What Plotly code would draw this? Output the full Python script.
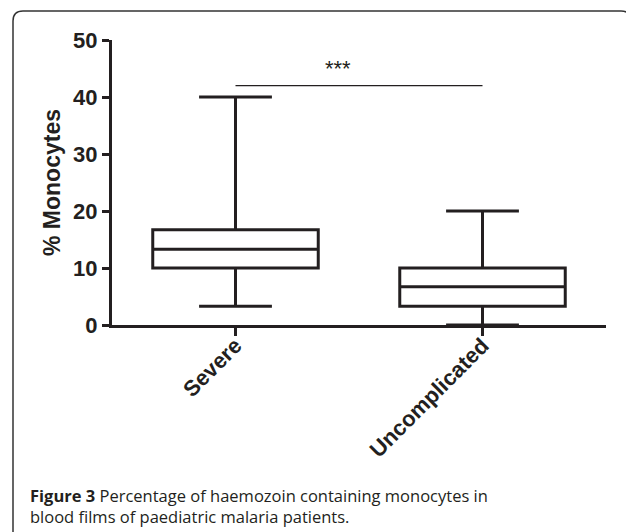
import plotly.graph_objects as go

categories = ["Severe", "Uncomplicated"]
minimum = [3.3, 0.0]
q1 = [10.0, 3.3]
median = [13.3, 6.7]
q3 = [16.7, 10.0]
maximum = [40.0, 20.0]
y_ticks = [0, 10, 20, 30, 40, 50]
sig_level = 42.0
sig_label = "***"
y_title = "% Monocytes"
caption_bold = "Figure 3"
caption_1 = " Percentage of haemozoin containing monocytes in"
caption_2 = "blood films of paediatric malaria patients."

OFF = 8  # page body margin
W, H = 634 - OFF, 532 - OFF
L, R, T, B = 112 - OFF, 28, 40 - OFF, 207
pw, ph = W - L - R, H - T - B


def px(x):
    return (x - OFF - L) / pw


def py(y):
    return (T + ph - (y - OFF)) / ph


ink = "#231f20"

fig = go.Figure()
fig.add_trace(go.Box(
    x=categories, q1=q1, median=median, q3=q3,
    lowerfence=minimum, upperfence=maximum,
    width=0.67, whiskerwidth=0.44,
    fillcolor="white", line=dict(color=ink, width=3),
    boxpoints=False, showlegend=False, hoverinfo="skip",
))

# significance bar
fig.add_shape(type="line", xref="x", yref="y", x0=categories[0], x1=categories[1],
              y0=sig_level, y1=sig_level, line=dict(color=ink, width=1.3))
fig.add_annotation(x=px(338), y=py(54), xref="paper", yref="paper", text=sig_label,
                   showarrow=False, font=dict(family="Liberation Sans", size=22, color=ink))

# rounded border (open at bottom)
x0, x1, y0, yb = px(13), px(631), py(11), py(560)
rx, ry = 10 / pw, 10 / ph
path = (f"M {x0},{yb} L {x0},{y0 - ry} Q {x0},{y0} {x0 + rx},{y0} "
        f"L {x1 - rx},{y0} Q {x1},{y0} {x1},{y0 - ry} L {x1},{yb}")
fig.add_shape(type="path", xref="paper", yref="paper", path=path,
              line=dict(color="#333333", width=1.5))

# caption
fig.add_annotation(x=px(28), y=py(495), xref="paper", yref="paper",
                   xanchor="left", yanchor="middle", showarrow=False, align="left",
                   text=f"<b>{caption_bold}</b>{caption_1}",
                   font=dict(family="Open Sans", size=16.5, color=ink))
fig.add_annotation(x=px(28), y=py(517), xref="paper", yref="paper",
                   xanchor="left", yanchor="middle", showarrow=False, align="left",
                   text=caption_2,
                   font=dict(family="Open Sans", size=16.5, color=ink))

fig.update_layout(
    width=W, height=H,
    margin=dict(l=L, r=R, t=T, b=B, pad=0),
    paper_bgcolor="white", plot_bgcolor="white",
    xaxis=dict(
        type="category", range=[-0.5, 1.5],
        showline=True, linecolor=ink, linewidth=3,
        ticks="outside", ticklen=8, tickwidth=3, tickcolor=ink,
        tickangle=-45, showgrid=False, zeroline=False, ticklabelstandoff=-12,
        tickfont=dict(family="Liberation Sans", size=22, color=ink, weight="bold"),
    ),
    yaxis=dict(
        range=[0, 50], tickvals=y_ticks,
        showline=True, linecolor=ink, linewidth=3,
        ticks="outside", ticklen=7, tickwidth=3, tickcolor=ink,
        showgrid=False, zeroline=False,
        tickfont=dict(family="Liberation Sans", size=22, color=ink, weight="bold"),
        title=dict(text=y_title, standoff=7,
                   font=dict(family="Liberation Sans", size=23, color=ink, weight="bold")),
    ),
)

fig.write_html("out.html")
